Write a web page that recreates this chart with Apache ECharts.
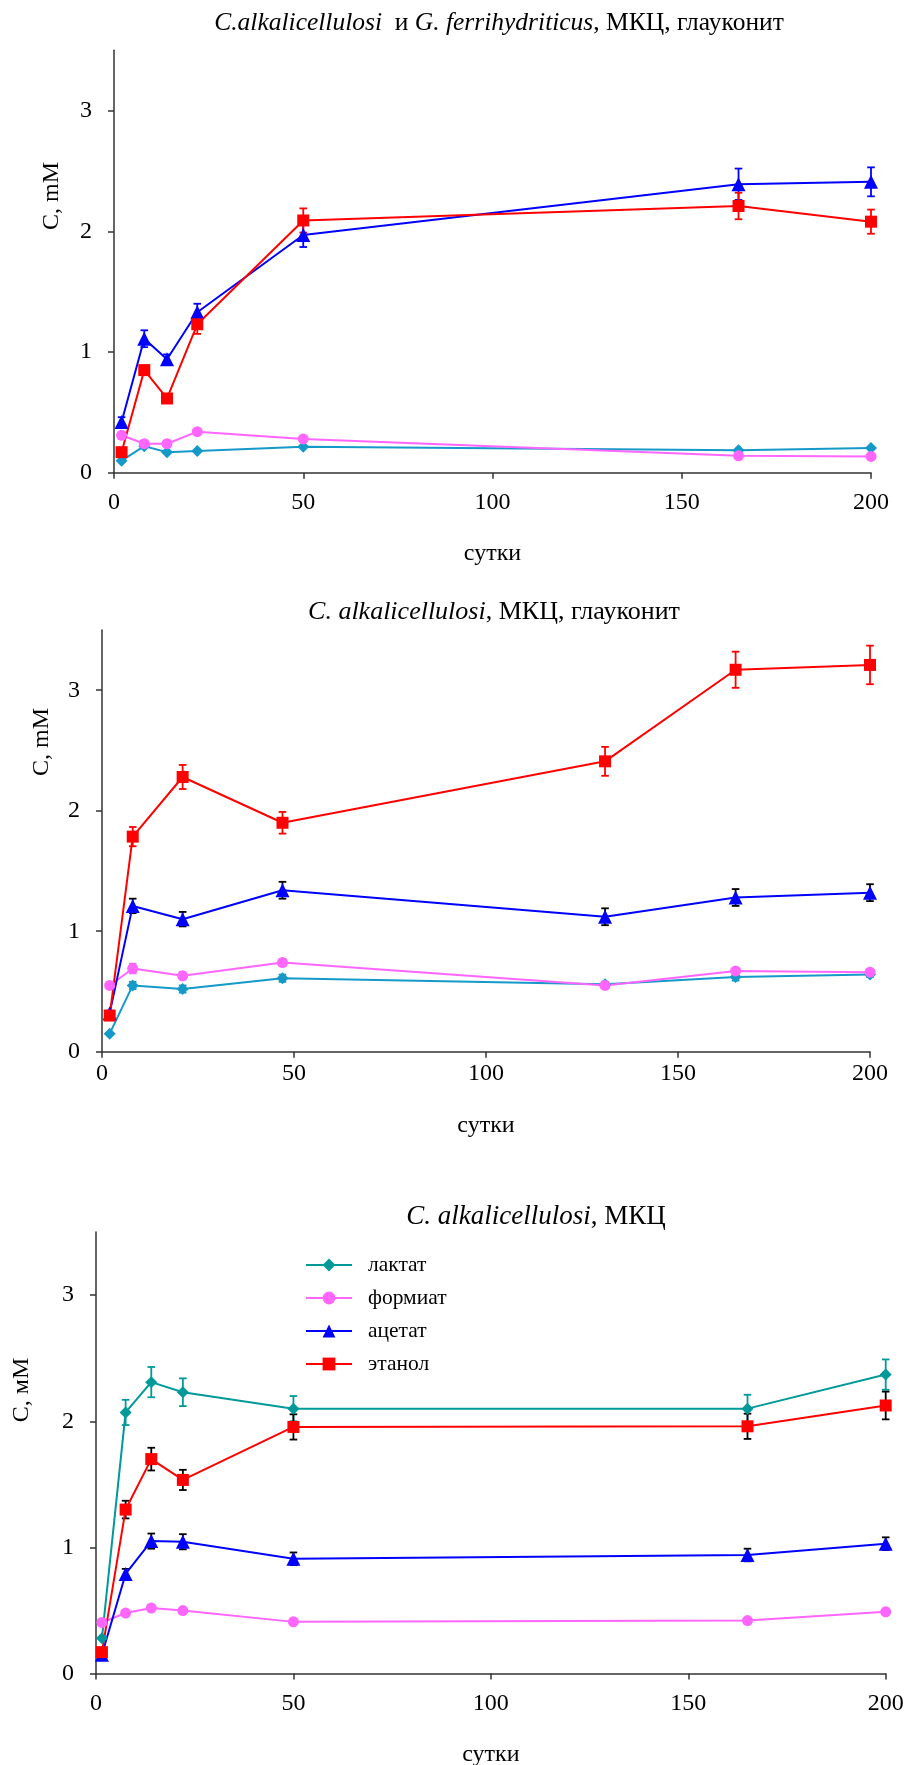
<!DOCTYPE html>
<html>
<head>
<meta charset="utf-8">
<script src="https://cdn.jsdelivr.net/npm/echarts@6/dist/echarts.min.js"></script>
<style>
  html, body { margin: 0; padding: 0; background: #fff; }
  #chart { width: 909px; height: 1765px; }
</style>
</head>
<body>
<div id="chart"></div>
<script>
// ---- shared ticks ----
const xTickValues = [0, 50, 100, 150, 200];
const yTickValues = [0, 1, 2, 3];

// ---- panel A: C.alkalicellulosi + G. ferrihydriticus, МКЦ, глауконит ----
const daysA       = [2, 8, 14, 22, 50, 165, 200];
const lactateA    = [0.10, 0.22, 0.17, 0.18, 0.215, 0.185, 0.205];
const formateA    = [0.31, 0.24, 0.24, 0.34, 0.28, 0.14, 0.135];
const acetateA    = [0.42, 1.11, 0.94, 1.33, 1.97, 2.39, 2.41];
const acetateErrA = [0.04, 0.07, 0.04, 0.07, 0.10, 0.13, 0.12];
const ethanolA    = [0.17, 0.85, 0.615, 1.23, 2.09, 2.21, 2.08];
const ethanolErrA = [0.02, 0.03, 0.02, 0.08, 0.10, 0.11, 0.10];

// ---- panel B: C. alkalicellulosi, МКЦ, глауконит ----
const daysB       = [2, 8, 21, 47, 131, 165, 200];
const lactateB    = [0.15, 0.55, 0.52, 0.61, 0.56, 0.62, 0.64];
const lactateErrB = [0.00, 0.03, 0.03, 0.03, 0.02, 0.03, 0.02];
const formateB    = [0.55, 0.69, 0.63, 0.74, 0.55, 0.67, 0.66];
const formateErrB = [0.00, 0.04, 0.03, 0.03, 0.02, 0.02, 0.02];
const acetateB    = [0.32, 1.21, 1.10, 1.34, 1.12, 1.28, 1.32];
const acetateErrB = [0.02, 0.06, 0.06, 0.07, 0.07, 0.07, 0.07];
const ethanolB    = [0.30, 1.785, 2.28, 1.90, 2.41, 3.17, 3.21];
const ethanolErrB = [0.03, 0.08, 0.10, 0.09, 0.12, 0.15, 0.16];

// ---- panel C: C. alkalicellulosi, МКЦ ----
const daysC       = [1.5, 7.5, 14, 22, 50, 165, 200];
const lactateC    = [0.28, 2.07, 2.31, 2.23, 2.10, 2.10, 2.37];
const lactateErrC = [0.00, 0.10, 0.12, 0.11, 0.10, 0.11, 0.12];
const formateC    = [0.405, 0.48, 0.52, 0.50, 0.41, 0.42, 0.49];
const formateErrC = [0.00, 0.02, 0.02, 0.02, 0.01, 0.01, 0.01];
const acetateC    = [0.15, 0.79, 1.05, 1.045, 0.91, 0.94, 1.03];
const acetateErrC = [0.00, 0.04, 0.06, 0.06, 0.05, 0.05, 0.05];
const ethanolC    = [0.17, 1.30, 1.70, 1.535, 1.955, 1.96, 2.125];
const ethanolErrC = [0.02, 0.07, 0.09, 0.08, 0.10, 0.10, 0.11];

const SERIF = "'Liberation Serif', 'Times New Roman', serif";
const C_LACT_AB = '#1599c9';
const C_LACT_C  = '#009999';
const C_FORM    = '#ff66ff';
const C_ACET    = '#0000ff';
const C_ETH     = '#ff0000';
const AXIS      = '#333333';

function pairs(days, vals) { return days.map((d, i) => [d, vals[i]]); }

function lineSeries(name, gi, days, vals, color, symbol, size) {
  return {
    name, type: 'line', xAxisIndex: gi, yAxisIndex: gi,
    data: pairs(days, vals),
    symbol, symbolSize: size,
    lineStyle: { color, width: 2 },
    itemStyle: { color },
    z: 5, animation: false
  };
}

function errorSeries(gi, days, vals, errs, color) {
  const data = [];
  days.forEach((d, i) => { if (errs[i] > 0) data.push([d, vals[i] - errs[i], vals[i] + errs[i]]); });
  return {
    type: 'custom', xAxisIndex: gi, yAxisIndex: gi, silent: true, z: 3,
    encode: { x: 0, y: [1, 2] },
    data,
    renderItem(params, api) {
      const lo = api.coord([api.value(0), api.value(1)]);
      const hi = api.coord([api.value(0), api.value(2)]);
      const w = 3.8;
      const style = { stroke: color, lineWidth: 1.8 };
      return {
        type: 'group',
        children: [
          { type: 'line', shape: { x1: lo[0], y1: lo[1], x2: hi[0], y2: hi[1] }, style },
          { type: 'line', shape: { x1: lo[0] - w, y1: lo[1], x2: lo[0] + w, y2: lo[1] }, style },
          { type: 'line', shape: { x1: hi[0] - w, y1: hi[1], x2: hi[0] + w, y2: hi[1] }, style }
        ]
      };
    },
    animation: false
  };
}

function xAxisFor(gi, nameGap, labelMargin) {
  return {
    type: 'value', gridIndex: gi, min: 0, max: 200, interval: 50,
    name: 'сутки', nameLocation: 'middle', nameGap,
    nameTextStyle: { fontFamily: SERIF, fontSize: 24, color: '#000' },
    axisLine: { show: true, onZero: false, lineStyle: { color: AXIS, width: 1.5 } },
    axisTick: { show: true, length: 6, lineStyle: { color: AXIS, width: 1.5 }, customValues: xTickValues },
    axisLabel: { fontFamily: SERIF, fontSize: 24, color: '#000', margin: labelMargin, customValues: xTickValues },
    splitLine: { show: false }
  };
}

function yAxisFor(gi) {
  return {
    type: 'value', gridIndex: gi, min: 0, max: 3.5, interval: 1,
    axisLine: { show: true, onZero: false, lineStyle: { color: AXIS, width: 1.5 } },
    axisTick: { show: true, length: 6, lineStyle: { color: AXIS, width: 1.5 }, customValues: yTickValues },
    axisLabel: { fontFamily: SERIF, fontSize: 24, color: '#000', margin: 22, customValues: yTickValues },
    splitLine: { show: false }
  };
}

function titleText(x, y, size, text) {
  return {
    type: 'text', x, y, silent: true,
    style: {
      text, align: 'center', verticalAlign: 'middle',
      fontFamily: SERIF, fontSize: size, fill: '#000',
      rich: { i: { fontStyle: 'italic', fontFamily: SERIF, fontSize: size, fill: '#000' } }
    }
  };
}

function yNameText(x, y, text) {
  return {
    type: 'text', x, y, rotation: Math.PI / 2, silent: true,
    style: { text, align: 'center', verticalAlign: 'middle', fontFamily: SERIF, fontSize: 24, fill: '#000' }
  };
}

const chart = echarts.init(document.getElementById('chart'), null, { renderer: 'canvas' });

chart.setOption({
  backgroundColor: '#ffffff',
  animation: false,
  grid: [
    { left: 114, top: 50.3, width: 757, height: 422.4, outerBoundsMode: 'none' },
    { left: 102, top: 630, width: 768, height: 421.7, outerBoundsMode: 'none' },
    { left: 96, top: 1232, width: 789.7, height: 441.6, outerBoundsMode: 'none' }
  ],
  xAxis: [xAxisFor(0, 69, 18), xAxisFor(1, 62, 10.5), xAxisFor(2, 69, 18.5)],
  yAxis: [yAxisFor(0), yAxisFor(1), yAxisFor(2)],
  legend: {
    data: ['лактат', 'формиат', 'ацетат', 'этанол'],
    orient: 'vertical', left: 305, top: 1254, padding: 0,
    itemWidth: 46, itemHeight: 16, itemGap: 11,
    selectedMode: false,
    textStyle: { fontFamily: SERIF, fontSize: 21.5, color: '#000', padding: [0, 0, 0, 11] }
  },
  graphic: [
    titleText(499, 23, 25.5, '{i|C.alkalicellulosi}  и {i|G. ferrihydriticus}, МКЦ, глауконит'),
    titleText(494, 612, 26, '{i|C. alkalicellulosi}, МКЦ, глауконит'),
    titleText(536, 1217, 27, '{i|C. alkalicellulosi}, МКЦ'),
    yNameText(52, 196, 'C, mM'),
    yNameText(42, 742, 'C, mM'),
    yNameText(22, 1390, 'С, мМ')
  ],
  series: [
    // panel A
    errorSeries(0, daysA, acetateA, acetateErrA, C_ACET),
    errorSeries(0, daysA, ethanolA, ethanolErrA, C_ETH),
    lineSeries('A лактат', 0, daysA, lactateA, C_LACT_AB, 'diamond', 12),
    lineSeries('A формиат', 0, daysA, formateA, C_FORM, 'circle', 11),
    lineSeries('A ацетат', 0, daysA, acetateA, C_ACET, 'triangle', 14),
    lineSeries('A этанол', 0, daysA, ethanolA, C_ETH, 'rect', 12),
    // panel B
    errorSeries(1, daysB, lactateB, lactateErrB, C_LACT_AB),
    errorSeries(1, daysB, formateB, formateErrB, C_FORM),
    errorSeries(1, daysB, acetateB, acetateErrB, '#000000'),
    errorSeries(1, daysB, ethanolB, ethanolErrB, C_ETH),
    lineSeries('B лактат', 1, daysB, lactateB, C_LACT_AB, 'diamond', 12),
    lineSeries('B формиат', 1, daysB, formateB, C_FORM, 'circle', 11),
    lineSeries('B ацетат', 1, daysB, acetateB, C_ACET, 'triangle', 14),
    lineSeries('B этанол', 1, daysB, ethanolB, C_ETH, 'rect', 12),
    // panel C
    errorSeries(2, daysC, lactateC, lactateErrC, C_LACT_C),
    errorSeries(2, daysC, formateC, formateErrC, C_FORM),
    errorSeries(2, daysC, acetateC, acetateErrC, '#000000'),
    errorSeries(2, daysC, ethanolC, ethanolErrC, '#000000'),
    lineSeries('лактат', 2, daysC, lactateC, C_LACT_C, 'diamond', 12),
    lineSeries('формиат', 2, daysC, formateC, C_FORM, 'circle', 11),
    lineSeries('ацетат', 2, daysC, acetateC, C_ACET, 'triangle', 14),
    lineSeries('этанол', 2, daysC, ethanolC, C_ETH, 'rect', 12)
  ]
});
</script>
</body>
</html>
